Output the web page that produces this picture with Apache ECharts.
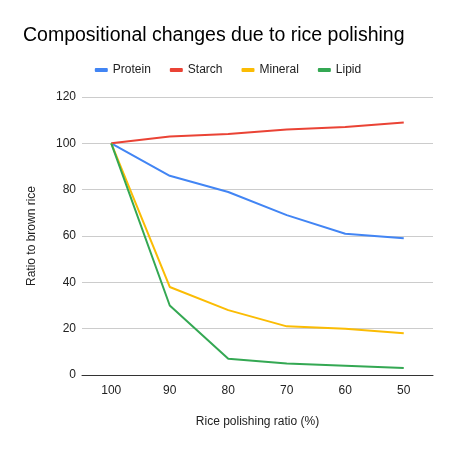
<!DOCTYPE html>
<html>
<head>
<meta charset="utf-8">
<script src="https://cdn.jsdelivr.net/npm/echarts@6/dist/echarts.min.js"></script>
<style>
  html, body { margin: 0; padding: 0; background: #fff; }
  #main { width: 456px; height: 450px; }
</style>
</head>
<body>
<div id="main"></div>
<script>
// x axis categories (polishing ratio, %)
var categories = ['100', '90', '80', '70', '60', '50'];
// series values, ratio to brown rice
var protein = [100, 86, 79, 69, 61, 59];
var starch = [100, 103, 104, 106, 107, 109];
var mineral = [100, 38, 28, 21, 20, 18];
var lipid = [100, 30, 7, 5, 4, 3];

var FONT = '"Liberation Sans", Arial, sans-serif';
var myChart = echarts.init(document.getElementById('main'));

function line(name, data, color) {
    return {
        name: name,
        type: 'line',
        data: data,
        symbol: 'none',
        lineStyle: { width: 2, color: color },
        itemStyle: { color: color }
    };
}

var option = {
    backgroundColor: '#fff',
    textStyle: { fontFamily: FONT },
    title: {
        text: 'Compositional changes due to rice polishing',
        left: 18,
        top: 21,
        textStyle: { fontSize: 19.5, fontWeight: 'normal', color: '#000', fontFamily: FONT }
    },
    legend: {
        top: 59,
        left: 'center',
        itemWidth: 13,
        itemHeight: 4,
        itemGap: 19,
        icon: 'roundRect',
        textStyle: { fontSize: 12, color: '#222', fontFamily: FONT },
        data: ['Protein', 'Starch', 'Mineral', 'Lipid']
    },
    grid: { left: 82, right: 23, top: 97, bottom: 75 },
    xAxis: {
        type: 'category',
        data: categories,
        boundaryGap: true,
        name: 'Rice polishing ratio (%)',
        nameLocation: 'middle',
        nameGap: 41,
        nameTextStyle: { fontSize: 12, color: '#222', fontFamily: FONT },
        axisLine: { lineStyle: { color: '#333', width: 1 } },
        axisTick: { show: false },
        axisLabel: { fontSize: 12, color: '#222', margin: 10, fontFamily: FONT }
    },
    yAxis: {
        type: 'value',
        min: 0,
        max: 120,
        interval: 20,
        name: 'Ratio to brown rice',
        nameLocation: 'middle',
        nameGap: 44,
        nameTextStyle: { fontSize: 12, color: '#222', fontFamily: FONT },
        axisLine: { show: false },
        axisTick: { show: false },
        axisLabel: { fontSize: 12, color: '#222', margin: 6, fontFamily: FONT },
        splitLine: { lineStyle: { color: '#ccc' } }
    },
    series: [
        line('Protein', protein, '#4285F4'),
        line('Starch', starch, '#EA4335'),
        line('Mineral', mineral, '#FBBC04'),
        line('Lipid', lipid, '#34A853')
    ]
};
myChart.setOption(option);
</script>
</body>
</html>
